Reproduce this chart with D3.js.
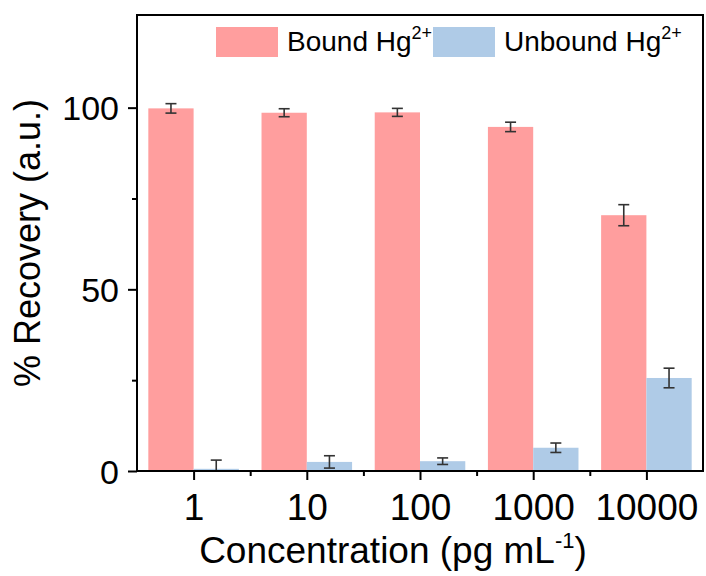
<!DOCTYPE html>
<html>
<head>
<meta charset="utf-8">
<script src="https://cdn.jsdelivr.net/npm/d3@7"></script>
<style>
  body { margin: 0; background: #fff; overflow: hidden; }
  svg { display: block; font-family: "Liberation Sans", Arial, sans-serif; }
</style>
</head>
<body>
<div id="chart"></div>
<script>
// data
var categories = ["1", "10", "100", "1000", "10000"];
var boundValues = [99.8, 98.6, 98.7, 94.7, 70.4];
var boundErrors = [1.3, 1.1, 1.1, 1.3, 2.9];
var unboundValues = [0.6, 2.5, 2.7, 6.4, 25.6];
var unboundErrors = [2.4, 1.7, 0.9, 1.3, 2.7];
var yTicks = [0, 50, 100];
var yMinorTicks = [25, 75];
var legendLabels = ["Bound Hg", "Unbound Hg"];

var width = 706, height = 576;
var margin = {top: 15, right: 3, bottom: 105, left: 137};
var innerWidth = width - margin.left - margin.right;
var innerHeight = height - margin.top - margin.bottom;
var pink = "#ff9e9e", blue = "#afcbe7";

var svg = d3.select("#chart").append("svg")
    .attr("width", width)
    .attr("height", height);
var chartGroup = svg.append("g")
    .attr("transform", "translate(" + margin.left + "," + margin.top + ")");

// categories sit at 1..5 on a linear axis running 0.5..5.5
var xScale = d3.scaleLinear()
    .domain([0.5, categories.length + 0.5])
    .range([0, innerWidth]);
var yScale = d3.scaleLinear()
    .domain([0, 125.5])
    .range([innerHeight, 0]);
var barWidth = xScale(1.4) - xScale(1);

var series = [
    {values: boundValues, errors: boundErrors, color: pink, offset: -barWidth},
    {values: unboundValues, errors: unboundErrors, color: blue, offset: 0}
];

series.forEach(function(s) {
    var g = chartGroup.append("g");
    g.selectAll("rect")
        .data(s.values)
        .enter()
        .append("rect")
        .attr("x", function(d, i) { return xScale(i + 1) + s.offset; })
        .attr("y", function(d) { return yScale(d); })
        .attr("width", barWidth)
        .attr("height", function(d) { return innerHeight - yScale(d); })
        .attr("fill", s.color);
    // error bars
    var eg = g.selectAll("g.err")
        .data(s.values)
        .enter()
        .append("g")
        .attr("class", "err")
        .attr("stroke", "#333")
        .attr("stroke-width", 1.6);
    var cx = function(i) { return xScale(i + 1) + s.offset + barWidth / 2; };
    eg.append("line")
        .attr("x1", function(d, i) { return cx(i); })
        .attr("x2", function(d, i) { return cx(i); })
        .attr("y1", function(d, i) { return yScale(d + s.errors[i]); })
        .attr("y2", function(d, i) { return yScale(Math.max(0, d - s.errors[i])); });
    [1, -1].forEach(function(sign) {
        eg.append("line")
            .attr("x1", function(d, i) { return cx(i) - 5.5; })
            .attr("x2", function(d, i) { return cx(i) + 5.5; })
            .attr("y1", function(d, i) { return yScale(Math.max(0, d + sign * s.errors[i])); })
            .attr("y2", function(d, i) { return yScale(Math.max(0, d + sign * s.errors[i])); });
    });
});

// frame
chartGroup.append("rect")
    .attr("x", 0).attr("y", 0)
    .attr("width", innerWidth).attr("height", innerHeight)
    .attr("fill", "none")
    .attr("stroke", "#000")
    .attr("stroke-width", 2);

// y axis
var yAxis = d3.axisLeft(yScale).tickValues(yTicks).tickSize(9).tickPadding(9);
var yg = chartGroup.append("g").call(yAxis);
yg.select(".domain").remove();
yg.selectAll(".tick line").attr("stroke-width", 2);
yg.selectAll("text").attr("font-size", 34).attr("fill", "#000")
    .attr("dy", "0.36em")
    .attr("font-family", "Liberation Sans, Arial, sans-serif");
var ym = chartGroup.append("g").call(d3.axisLeft(yScale).tickValues(yMinorTicks).tickSize(5).tickFormat(""));
ym.select(".domain").remove();
ym.selectAll("text").remove();
ym.selectAll(".tick line").attr("stroke-width", 2);

// x axis
var xAxis = d3.axisBottom(xScale)
    .tickValues(d3.range(1, categories.length + 1))
    .tickFormat(function(d) { return categories[d - 1]; })
    .tickSize(9).tickPadding(14);
var xg = chartGroup.append("g")
    .attr("transform", "translate(0," + innerHeight + ")")
    .call(xAxis);
xg.select(".domain").remove();
xg.selectAll(".tick line").attr("stroke-width", 2);
xg.selectAll("text").attr("font-size", 37).attr("fill", "#000")
    .attr("font-family", "Liberation Sans, Arial, sans-serif");
var xm = chartGroup.append("g")
    .attr("transform", "translate(0," + innerHeight + ")")
    .call(d3.axisBottom(xScale).tickValues(d3.range(1.5, categories.length, 1)).tickSize(5).tickFormat(""));
xm.select(".domain").remove();
xm.selectAll("text").remove();
xm.selectAll(".tick line").attr("stroke-width", 2);

// axis titles
var xTitle = svg.append("text")
    .attr("x", 393)
    .attr("y", 563)
    .attr("text-anchor", "middle")
    .attr("font-size", 37);
xTitle.append("tspan").text("Concentration (pg mL");
xTitle.append("tspan").attr("font-size", 22).attr("dy", -15).text("-1");
xTitle.append("tspan").attr("dy", 15).text(")");

svg.append("text")
    .attr("transform", "translate(40,243) rotate(-90)")
    .attr("text-anchor", "middle")
    .attr("font-size", 36)
    .text("% Recovery (a.u.)");

// legend
var legend = svg.append("g");
var legendX = [216, 433];
[pink, blue].forEach(function(c, i) {
    legend.append("rect")
        .attr("x", legendX[i]).attr("y", 27)
        .attr("width", 62).attr("height", 30)
        .attr("fill", c);
    var t = legend.append("text")
        .attr("x", legendX[i] + 71)
        .attr("y", 51)
        .attr("font-size", 28);
    t.append("tspan").text(legendLabels[i]);
    t.append("tspan").attr("font-size", 18).attr("dy", -12).text("2+");
});
</script>
</body>
</html>
